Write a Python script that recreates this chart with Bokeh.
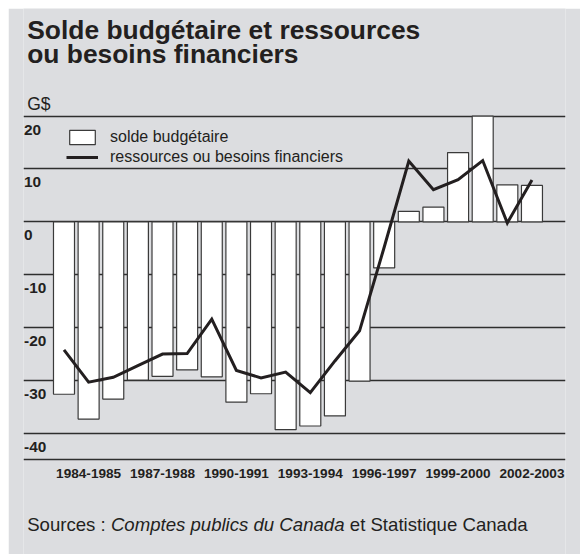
from bokeh.plotting import figure
from bokeh.models import Range1d, FixedTicker, Label, Legend, LegendItem, ColumnDataSource
from bokeh.embed import file_html
from bokeh.resources import INLINE
from bokeh.core.properties import value

# ---- data ----
years = ["1983-1984", "1984-1985", "1985-1986", "1986-1987", "1987-1988",
         "1988-1989", "1989-1990", "1990-1991", "1991-1992", "1992-1993",
         "1993-1994", "1994-1995", "1995-1996", "1996-1997", "1997-1998",
         "1998-1999", "1999-2000", "2000-2001", "2001-2002", "2002-2003"]
solde = [-32.6, -37.3, -33.5, -29.9, -29.2, -28.0, -29.3, -34.1, -32.5, -39.3,
         -38.6, -36.7, -30.1, -8.7, 2.0, 2.8, 13.1, 20.0, 7.0, 6.9]
ressources = [-24.2, -30.3, -29.4, -27.2, -25.0, -24.9, -18.4, -28.1, -29.5, -28.4,
              -32.3, -26.3, -20.6, -4.8, 11.5, 6.1, 8.0, 11.6, -0.2, 7.9]
y_ticks = [20, 10, 0, -10, -20, -30, -40]
y_floor = -45
label_idx = list(range(1, len(years), 3))
x_labels = [years[i] for i in label_idx]

DARK = "#231f20"
BG = "#dcdde0"
FONT = "Liberation Sans"

x = list(range(len(years)))
src = ColumnDataSource(dict(x=x, solde=solde, ressources=ressources, year=years))

# frame covers the full height of the canvas; scale 5.288 px per unit
x_start, x_end = -1.644, 20.362
y_top, y_bot = 40.35, -62.9
p = figure(width=572, height=546,
           x_range=Range1d(x_start, x_end), y_range=Range1d(y_bot, y_top),
           output_backend="svg", toolbar_location=None, tools="",
           x_axis_location=None, y_axis_location=None,
           min_border_left=15, min_border_right=15,
           min_border_top=0, min_border_bottom=0)
p.margin = (8, 0, 0, 8)
p.background_fill_color = BG
p.border_fill_color = BG
p.outline_line_color = None

# grid
p.xgrid.visible = False
p.ygrid.ticker = FixedTicker(ticks=y_ticks + [y_floor])
p.ygrid.grid_line_color = "#2e2e2e"
p.ygrid.grid_line_width = 1.3

# bars and line
bars = p.vbar(x="x", top="solde", bottom=0, width=0.853, source=src,
              fill_color="white", line_color="#3a3a3a", line_width=1.2)
ln = p.line(x="x", y="ressources", source=src, line_width=3,
            line_color=DARK, line_join="miter")

# y tick labels (under each grid line)
tsrc = ColumnDataSource(dict(x=[x_start] * len(y_ticks), y=y_ticks,
                             t=[str(t) for t in y_ticks]))
p.text(x="x", y="y", text="t", source=tsrc, x_offset=0.5, y_offset=13.5,
       text_font=value(FONT), text_font_style="bold", text_font_size="15.4px",
       text_color=DARK, text_align="left", text_baseline="middle")

# x category labels (under the bottom line)
xsrc = ColumnDataSource(dict(x=label_idx, y=[y_floor] * len(label_idx), t=x_labels))
p.text(x="x", y="y", text="t", source=xsrc, y_offset=13.5,
       text_font=value(FONT), text_font_style="bold", text_font_size="13.6px",
       text_color=DARK, text_align="center", text_baseline="middle")

# legend
legend = Legend(items=[LegendItem(label="solde budgétaire", renderers=[bars]),
                       LegendItem(label="ressources ou besoins financiers", renderers=[ln])],
                location=(43, 387), padding=0, spacing=0, margin=0,
                glyph_width=32, glyph_height=18, label_height=20, label_standoff=12,
                label_text_font=FONT, label_text_font_size="16px",
                label_text_color=DARK,
                background_fill_alpha=0, border_line_color=None)
p.add_layout(legend)

def lab(txt, xx, yy, size, style="normal", color=DARK):
    p.add_layout(Label(x=xx, y=yy, x_units="canvas", y_units="canvas",
                       text=txt, text_font=FONT, text_font_size=size,
                       text_font_style=style, text_color=color,
                       text_align="left", text_baseline="middle"))

lab("Solde budgétaire et ressources", 18.7, 21.5, "26.4px", "bold")
lab("ou besoins financiers", 18.7, 45.8, "26.4px", "bold")
lab("G$", 18.7, 95.3, "17.5px")
lab("Sources :", 18.7, 515.7, "18.6px")
lab("Comptes publics du Canada", 102.4, 515.7, "18.6px", "italic")
lab("et Statistique Canada", 341.3, 515.7, "18.6px")

open("out.html", "w").write(file_html(p, INLINE))
